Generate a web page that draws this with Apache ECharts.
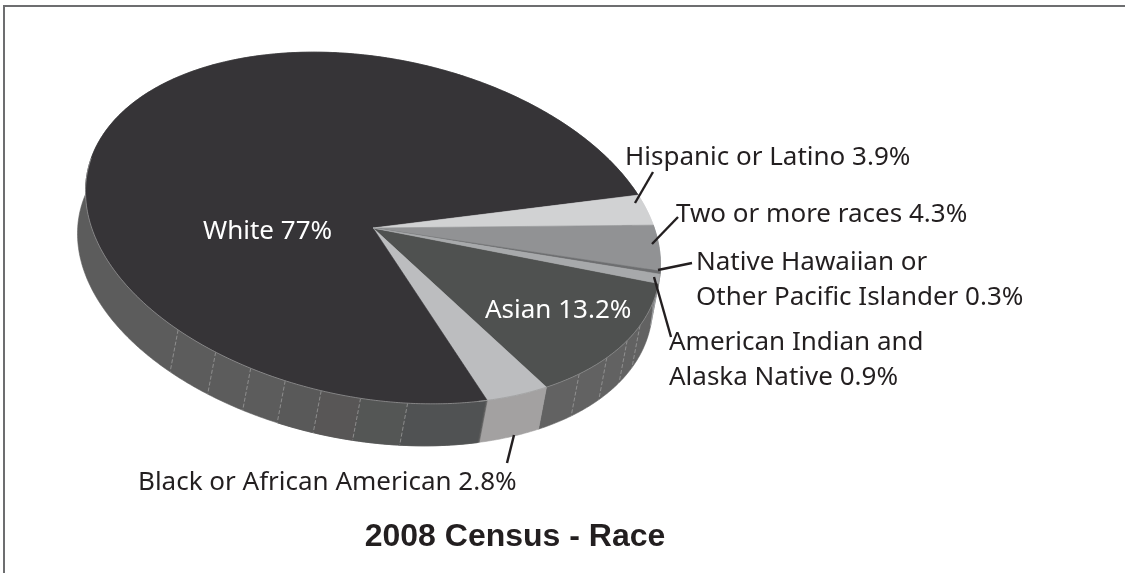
<!DOCTYPE html>
<html><head><meta charset="utf-8">
<style>html,body{margin:0;padding:0;background:#fff}#c{width:1125px;height:573px}</style>
<script src="https://cdn.jsdelivr.net/npm/echarts@6/dist/echarts.min.js"></script>
</head><body><div id="c"></div>
<script>
// Slice order runs clockwise from the Asian / American Indian boundary.
const categories = ['Asian','Black or African American','White','Hispanic or Latino','Two or more races','Native Hawaiian or Other Pacific Islander','American Indian and Alaska Native'];
// Slice sizes read from the drawn wedges (the Black and Hispanic wedges are drawn about 3.9 and 2.8 wide).
const sliceValues = [13.2, 3.9, 77, 2.8, 4.3, 0.3, 0.9];
const topColors = ['#4f5150','#bcbdbf','#363437','#d1d2d3','#919294','#6d6e70','#a7a9ab'];
const wallColors = ['#626262','#a3a1a1','#5c5c5c','#d1d2d3','#919294','#6d6e70','#a7a9ab'];
// Facet boundaries on the side wall, in degrees around the pie, with the facet fills between them.
const facetAngles = [15.3,21.4,29.1,37.7,76.6,86,93.9,101.3,108.7,116.7,126.2];
const facetFills = [[60.5,76.6,'#505253'],[76.6,86,'#545655'],[86,93.9,'#585656'],[93.9,101.3,'#595959']];
const labelTexts = [
  {t:'White 77%',x:203,y:232,c:'#fff'},
  {t:'Asian 13.2%',x:485,y:311,c:'#fff'},
  {t:'Hispanic or Latino 3.9%',x:625,y:158},
  {t:'Two or more races 4.3%',x:676,y:215},
  {t:'Native Hawaiian or',x:696,y:263},
  {t:'Other Pacific Islander 0.3%',x:696,y:298},
  {t:'American Indian and',x:669,y:343},
  {t:'Alaska Native 0.9%',x:669,y:378},
  {t:'Black or African American 2.8%',x:138,y:483}
];
const leaders = [[[635,203],[653,172]],[[652,244],[678,217]],[[658,270],[692,263]],[[654,277],[671,337]],[[514,435],[507,463]]];
const titleText = '2008 Census - Race';

const CX=373, CY=228, A=291, B=170, TILT=11*Math.PI/180, DX=-8, DY=42;
const total = sliceValues.reduce((s,v)=>s+v,0);
function pt(deg, down){
  const t=deg*Math.PI/180, u=A*Math.cos(t), v=B*Math.sin(t);
  return [u*Math.cos(TILT)-v*Math.sin(TILT)+(down?DX:0), u*Math.sin(TILT)+v*Math.cos(TILT)+(down?DY:0)];
}
function arc(a0,a1,down){ const n=Math.max(2,Math.ceil(Math.abs(a1-a0))*2), r=[];
  for(let i=0;i<=n;i++) r.push(pt(a0+(a1-a0)*i/n,down)); return r; }
function range(i){ let s=0; for(let k=0;k<i;k++) s+=sliceValues[k]; return [s/total*360,(s+sliceValues[i])/total*360]; }
const poly=(api,pts,fill,stroke,lw)=>({type:'polygon',shape:{points:pts.map(p=>api.coord(p))},
  style:{fill,stroke:stroke||fill,lineWidth:lw===undefined?0.6:lw}});

const chart=echarts.init(document.getElementById('c'),null,{renderer:'canvas'});
const font='"Noto Sans"';
chart.setOption({
  animation:false, backgroundColor:'#fff',
  grid:{left:0,top:0,width:1125,height:573,show:false},
  xAxis:{type:'value',min:-CX,max:1125-CX,show:false},
  yAxis:{type:'value',min:-CY,max:573-CY,inverse:true,show:false},
  title:{text:titleText,left:510,textAlign:'center',top:516,textStyle:{fontFamily:'"Liberation Sans"',fontWeight:'bold',fontSize:32,color:'#231f20'}},
  series:[
   {type:'custom',name:'Side wall',coordinateSystem:'cartesian2d',silent:true,z:2,data:sliceValues,
    renderItem(p,api){ const [a0,a1]=range(p.dataIndex);
      return {type:'group',children:[poly(api,arc(a0,a1,false).concat(arc(a1,a0,true)),wallColors[p.dataIndex])]}; }},
   {type:'custom',name:'Wall facets',coordinateSystem:'cartesian2d',silent:true,z:3,data:facetFills,
    renderItem(p,api){ const f=facetFills[p.dataIndex];
      return poly(api,arc(f[0],f[1],false).concat(arc(f[1],f[0],true)),f[2]); }},
   {type:'custom',name:'Facet lines',coordinateSystem:'cartesian2d',silent:true,z:4,data:facetAngles,
    renderItem(p,api){ const a=facetAngles[p.dataIndex], s=api.coord(pt(a,false)), e=api.coord(pt(a,true));
      return {type:'line',shape:{x1:s[0],y1:s[1],x2:e[0],y2:e[1]},style:{stroke:'#a3a3a3',lineWidth:0.7,lineDash:[4,2]}}; }},
   {type:'custom',name:'Top',coordinateSystem:'cartesian2d',silent:true,z:5,data:sliceValues,
    renderItem(p,api){ const [a0,a1]=range(p.dataIndex);
      return poly(api,[[0,0]].concat(arc(a0,a1,false)),topColors[p.dataIndex]); }},
   {type:'custom',name:'Rim',coordinateSystem:'cartesian2d',silent:true,z:6,data:[0],
    renderItem(p,api){ return {type:'polyline',shape:{points:arc(-3,62,false).map(q=>api.coord(q))},style:{stroke:'#9a9a9a',lineWidth:0.7,fill:null}}; }},
   {type:'custom',name:'Rim left',coordinateSystem:'cartesian2d',silent:true,z:6,data:[0],
    renderItem(p,api){ return {type:'polyline',shape:{points:arc(60,185,false).map(q=>api.coord(q))},style:{stroke:'#a5a5a5',lineWidth:0.7,fill:null}}; }},
   {type:'custom',name:'Leaders',coordinateSystem:'cartesian2d',silent:true,z:7,data:leaders,
    renderItem(p,api){ const l=leaders[p.dataIndex];
      return {type:'line',shape:{x1:l[0][0],y1:l[0][1],x2:l[1][0],y2:l[1][1]},style:{stroke:'#231f20',lineWidth:2.4}}; }},
   {type:'custom',name:'Labels',coordinateSystem:'cartesian2d',silent:true,z:8,data:labelTexts,
    renderItem(p,api){ const l=labelTexts[p.dataIndex];
      return {type:'text',x:l.x,y:l.y,style:{text:l.t,fill:l.c||'#231f20',font:'26px '+font,textAlign:'left',textVerticalAlign:'middle'}}; }}
  ],
  graphic:[{type:'polyline',silent:true,shape:{points:[[4,573],[4,6],[1125,6]]},style:{stroke:'#6d6e70',lineWidth:2,fill:null}}]
});
</script></body></html>
